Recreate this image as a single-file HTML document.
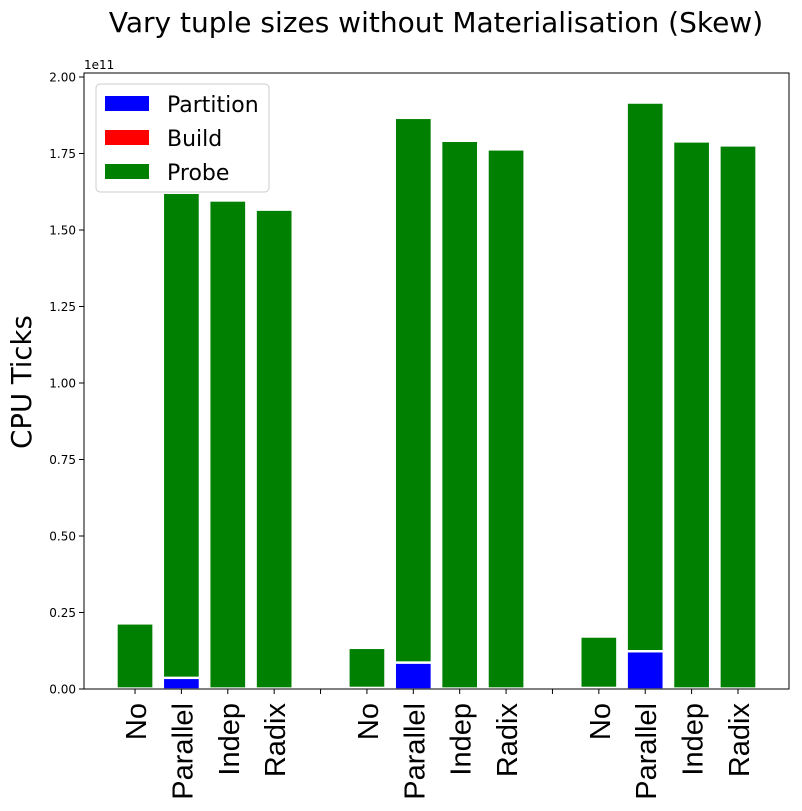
<!DOCTYPE html>
<html><head><meta charset="utf-8"><style>
body{margin:0;background:#fff;}
svg{display:block;font-family:"DejaVu Sans","Liberation Sans",sans-serif;}
</style></head><body>
<svg id="chart" width="802" height="811">
<text x="436" y="32" font-size="28" text-anchor="middle">Vary tuple sizes without Materialisation (Skew)</text>
<text x="0" y="0" font-size="27.5" text-anchor="middle" transform="translate(31 382) rotate(-90)">CPU Ticks</text>
<text x="84" y="69" font-size="12">1e11</text>
<g id="bars"></g>
<rect x="84" y="73" width="705" height="616" fill="none" stroke="#000" stroke-width="1"/>
<g id="axes"></g>
<g>
<rect x="96" y="84" width="173" height="108" rx="4" fill="#fff" fill-opacity="0.8" stroke="#ccc"/>
<rect x="105" y="96" width="44" height="15" fill="#0000ff"/>
<text x="167" y="112" font-size="22">Partition</text>
<rect x="105" y="130" width="44" height="15" fill="#ff0000"/>
<text x="167" y="146" font-size="22">Build</text>
<rect x="105" y="164" width="44" height="15" fill="#008000"/>
<text x="167" y="180" font-size="22">Probe</text>
</g>
</svg>
<script>
const categories = ["No","Parallel","Indep","Radix","","No","Parallel","Indep","Radix","","No","Parallel","Indep","Radix"];
const partition = [0,0.035,0,0,null,0,0.085,0,0,null,0,0.122,0,0];
const build = [0.003,0.003,0.003,0.003,null,0.005,0.003,0.003,0.003,null,0.005,0.003,0.003,0.003];
const probe = [0.210,1.582,1.592,1.562,null,0.128,1.777,1.787,1.759,null,0.165,1.79,1.785,1.772];
const yTicks = [0,0.25,0.5,0.75,1.0,1.25,1.5,1.75,2.0];
const yTickLabels = ["0.00","0.25","0.50","0.75","1.00","1.25","1.50","1.75","2.00"];
const NS="http://www.w3.org/2000/svg";
const X0=84,X1=789,Y0=689,Y1=77;
const xmin=-1.1,xmax=14.1;
function xs(i){return X0+(i-xmin)/(xmax-xmin)*(X1-X0);}
function ys(v){return Y0-(v/2.0)*(Y0-Y1);}
const bw=(xs(0.78)-xs(0));
const bars=document.getElementById('bars'), axes=document.getElementById('axes');
function mk(tag,attrs,parent){const e=document.createElementNS(NS,tag);for(const k in attrs)e.setAttribute(k,attrs[k]);parent.appendChild(e);return e;}
categories.forEach((c,i)=>{
  const cx=xs(i);
  if(probe[i]!==null){
    let base=0;
    [[partition,'#0000ff','partition'],[build,'#ff0000','build'],[probe,'#008000','probe']].forEach(([arr,col,nm])=>{
      const v=arr[i];
      if(v>0){
        const r=mk('rect',{x:cx-bw/2,y:ys(base+v),width:bw,height:ys(base)-ys(base+v),fill:col,stroke:'#fff','stroke-width':1.5},bars);
        
        
      }
      base+=v;
    });
  }
  const t=mk('line',{x1:cx,x2:cx,y1:Y0,y2:Y0+5,stroke:'#000'},axes);
  
  
  if(c){
    const tx=mk('text',{x:0,y:0,'font-size':29,'font-family':'Liberation Sans, sans-serif','text-anchor':'end',transform:`translate(${cx+11},${Y0+14}) rotate(-90)`},axes);
    tx.textContent=c;
    
    
  }
});
yTicks.forEach((v,k)=>{
  const y=ys(v);
  const l=mk('line',{x1:X0-5,x2:X0,y1:y,y2:y,stroke:'#000'},axes);
  
  
  const t=mk('text',{x:X0-8,y:y+4.5,'font-size':12,'text-anchor':'end'},axes);
  t.textContent=yTickLabels[k];
  
  
});
</script>
</body></html>
